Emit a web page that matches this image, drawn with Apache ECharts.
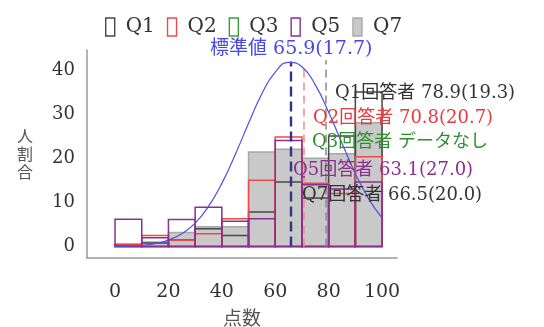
<!DOCTYPE html>
<html><head><meta charset="utf-8">
<script src="https://cdn.jsdelivr.net/npm/echarts@6/dist/echarts.min.js"></script>
<style>html,body{margin:0;padding:0;background:#fff}#c{width:544px;height:327px}</style>
</head><body><div id="c"></div>
<script>
// ---- data ----
const binStarts = [0, 10, 20, 30, 40, 50, 60, 70, 80, 90];
const binWidth = 10;
const q1 = [0.3, 0.8, 1.5, 4.0, 2.5, 7.8, 14.6, 11.0, 25.0, 35.0];
const q2 = [0.5, 2.5, 1.4, 2.9, 6.3, 15.0, 24.8, 14.3, 12.0, 20.3];
const q3 = [];
const q5 = [6.2, 2.0, 6.1, 8.9, 5.7, 6.3, 24.0, 14.0, 13.0, 14.6];
const q7 = [0.5, 1.0, 3.2, 4.5, 4.5, 21.4, 22.0, 20.0, 21.0, 28.0];
const curveX = [0, 5, 10, 15, 20, 25, 30, 35, 40, 45, 50, 55, 60, 65, 70, 75, 80, 85, 90, 95, 100];
const curveY = [0.04, 0.11, 0.28, 0.67, 1.45, 2.9, 5.3, 9.1, 14.3, 20.8, 27.9, 34.6, 39.5, 41.7, 40.7, 36.6, 30.4, 23.4, 16.5, 10.8, 6.5];
const xTicks = [0, 20, 40, 60, 80, 100];
const yTicks = [0, 10, 20, 30, 40];
const meanStd = 65.9, meanQ1 = 78.9, meanQ2 = 70.8;
const seriesNames = ['Q1', 'Q2', 'Q3', 'Q5', 'Q7'];
const labels = {
  std: '標準値 65.9(17.7)',
  q1: 'Q1回答者 78.9(19.3)',
  q2: 'Q2回答者 70.8(20.7)',
  q3: 'Q3回答者 データなし',
  q5: 'Q5回答者 63.1(27.0)',
  q7: 'Q7回答者 66.5(20.0)'
};

// ---- styles ----
const FONT = '"DejaVu Serif", "Noto Sans CJK JP", serif';
const colors = {Q1: '#474747', Q2: '#ee4a4a', Q3: '#3f9a3f', Q5: '#8e2e8e', Q7: '#a8a8a8'};
const fills = {Q1: 'transparent', Q2: 'transparent', Q3: 'transparent', Q5: 'transparent', Q7: '#c9c9c9'};

function makeRender(stroke, fill) {
  return function (params, api) {
    const lo = api.value(0), v = api.value(1);
    const p0 = api.coord([lo, v]);
    const p1 = api.coord([lo + binWidth, 0]);
    return {
      type: 'rect',
      shape: {x: p0[0], y: p0[1], width: p1[0] - p0[0], height: p1[1] - p0[1]},
      style: {fill: fill, stroke: stroke, lineWidth: 1.5}
    };
  };
}
function binSeries(name, vals) {
  return {
    name: name, type: 'custom',
    renderItem: makeRender(colors[name], fills[name]),
    itemStyle: {color: fills[name], borderColor: colors[name], borderWidth: 1.4},
    encode: {x: 0, y: 1},
    data: vals.map((v, i) => [binStarts[i], v]),
    z: 2
  };
}

const chart = echarts.init(document.getElementById('c'));
chart.setOption({
  animation: false,
  backgroundColor: '#fff',
  grid: {left: 87, right: 147, top: 50, bottom: 69, containLabel: false, outerBoundsMode: 'none'},
  legend: {
    left: 100, top: 12, itemWidth: 9, itemHeight: 18, itemGap: 12, icon: 'rect',
    textStyle: {fontFamily: FONT, fontSize: 20, color: '#333', padding: [0, 0, 0, 6]},
    data: seriesNames.map(n => ({name: n, itemStyle: {color: fills[n], borderColor: colors[n], borderWidth: 1.4}}))
  },
  xAxis: {
    type: 'value', min: -10.5, max: 105.6,
    splitLine: {show: false},
    axisLine: {show: true, onZero: false, lineStyle: {color: '#9a9a9a', width: 1.5}},
    axisTick: {show: false},
    axisLabel: {customValues: xTicks, fontFamily: FONT, fontSize: 19, color: '#333', margin: 25},
    name: '点数', nameLocation: 'middle', nameGap: 50,
    nameTextStyle: {fontFamily: '"Noto Sans CJK JP"', fontSize: 19, color: '#555'}
  },
  yAxis: {
    type: 'value', min: -2.6, max: 44.5,
    splitLine: {show: false},
    axisLine: {show: true, onZero: false, lineStyle: {color: '#9a9a9a', width: 1.5}},
    axisTick: {show: false},
    axisLabel: {customValues: yTicks, fontFamily: FONT, fontSize: 18, color: '#333', margin: 12},
    name: '人\n割\n合', nameLocation: 'middle', nameRotate: 0, nameGap: 54,
    nameTextStyle: {fontFamily: '"Noto Sans CJK JP"', fontSize: 16, lineHeight: 18, color: '#555'}
  },
  series: [
    binSeries('Q7', q7),
    binSeries('Q1', q1),
    binSeries('Q2', q2),
    binSeries('Q3', q3),
    binSeries('Q5', q5),
    {
      name: 'curve', type: 'line', smooth: true, showSymbol: false, z: 5,
      lineStyle: {color: '#4f4fe6', width: 1.2},
      data: curveX.map((x, i) => [x, curveY[i]]),
      markLine: {
        silent: true, symbol: 'none', label: {show: false},
        data: [
          [{coord: [meanQ1, 0], lineStyle: {color: '#8a8a8a', type: [8, 5], width: 1.5}}, {coord: [meanQ1, 42.2]}],
          [{coord: [meanQ2, 0], lineStyle: {color: '#f08a8a', type: [8, 5], width: 1.5}}, {coord: [meanQ2, 41.2]}],
          [{coord: [meanStd, 0], lineStyle: {color: '#33338a', type: [10, 5], width: 2.4}}, {coord: [meanStd, 41.9]}]
        ]
      }
    }
  ],
  graphic: [
    {type: 'text', x: 210, y: 49, z: 10, style: {text: labels.std, fill: '#4545ee', font: '19px ' + FONT, verticalAlign: 'middle'}},
    {type: 'text', x: 335, y: 93, z: 10, style: {text: labels.q1, fill: '#333', font: '18px ' + FONT, verticalAlign: 'middle'}},
    {type: 'text', x: 313, y: 118, z: 10, style: {text: labels.q2, fill: '#e83a3a', font: '18px ' + FONT, verticalAlign: 'middle'}},
    {type: 'text', x: 312, y: 142, z: 10, style: {text: labels.q3, fill: '#2f8f2f', font: '18px ' + FONT, verticalAlign: 'middle'}},
    {type: 'text', x: 293, y: 170, z: 10, style: {text: labels.q5, fill: '#8e2e8e', font: '18px ' + FONT, verticalAlign: 'middle'}},
    {type: 'text', x: 302, y: 195, z: 10, style: {text: labels.q7, fill: '#333', font: '18px ' + FONT, verticalAlign: 'middle'}}
  ]
});
</script></body></html>
